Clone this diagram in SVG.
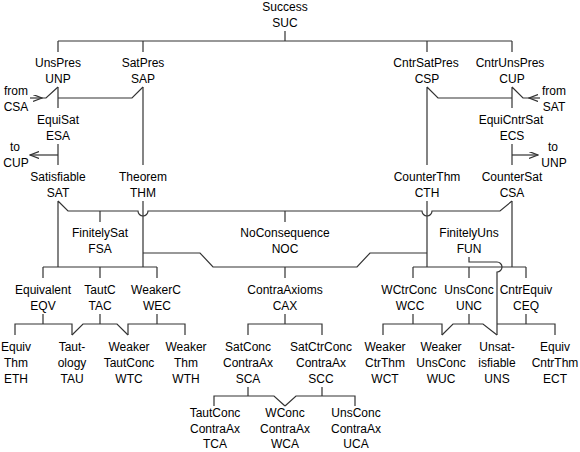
<svg xmlns="http://www.w3.org/2000/svg" width="580" height="452" viewBox="0 0 580 452">
<style>
text{font-family:"Liberation Sans",Arial,sans-serif;font-size:12px;text-anchor:middle;fill:#000}
.c path{fill:none;stroke:#333;stroke-width:1.2}
</style>
<defs>
<marker id="ah" markerUnits="userSpaceOnUse" markerWidth="10" markerHeight="8" refX="9" refY="3.5" orient="auto">
<path d="M0,0 L9,3.5 L0,7" fill="none" stroke="#333" stroke-width="1.2"/>
</marker>
</defs>
<rect width="580" height="452" fill="#fff"/>
<g id="connectors" class="c">
<path d="M285,31 V41 M58,41 H512 M58,41 V52 M143,41 V52 M427,41 V52 M512,41 V52"/>
<path d="M58,87 V108 M58,144 V165"/>
<path d="M143,87 V165"/>
<path d="M58,98 H132 L143,87"/>
<path d="M30,98 H42" marker-end="url(#ah)"/>
<path d="M42,98 H46 L58,87"/>
<path d="M58,155 H30" marker-end="url(#ah)"/>
<path d="M427,87 V165 M427,87 L438,98 H512"/>
<path d="M512,87 V108 M512,87 L523,98 H529"/>
<path d="M540,98 H529" marker-end="url(#ah)"/>
<path d="M512,144 V165"/>
<path d="M512,155 H538" marker-end="url(#ah)"/>
<path d="M58,201 V267 M58,201 L68,211 H138 A5,5 0 0 0 148,211 H422 A5,5 0 0 0 432,211 H500 L512,201"/>
<path d="M100,211 V222 M285,211 V222"/>
<path d="M143,201 V267 M427,201 V267 M512,201 V267"/>
<path d="M143,253 H200 L213,267 H357 L370,253 H427 M285,267 V278"/>
<path d="M43,267 H157 M43,267 V278 M100,267 V278 M157,267 V278"/>
<path d="M413,267 H526 M413,267 V278 M469,267 V278 M526,267 V278"/>
<path d="M469,257 V262 H497 A5,5 0 0 1 497,272 V335"/>
<path d="M43,314 V324 M15,335 V324 H72 V335"/>
<path d="M100,314 V324 M72,335 L83,324 H117 L128,335"/>
<path d="M157,314 V324 M128,335 V324 H185 V335"/>
<path d="M285,314 V324 M248,335 V324 H322 V335"/>
<path d="M413,314 V324 M383,335 V324 H442 V335"/>
<path d="M469,314 V324 M442,335 L453,324 H483 L497,335"/>
<path d="M526,314 V324 M497,324 H555 V335"/>
<path d="M248,387 V396 M214,406 V396 H274 L285,406"/>
<path d="M322,387 V396 M285,406 L296,396 H355 V406"/>
</g>
<g id="ext-labels">
<text x="16" y="95">from</text><text x="16" y="111">CSA</text>
<text x="15" y="151">to</text><text x="16" y="167">CUP</text>
<text x="554" y="95">from</text><text x="554" y="111">SAT</text>
<text x="553" y="151">to</text><text x="554" y="167">UNP</text>
</g>
<g id="SUC"><text x="285" y="11">Success</text><text x="285" y="27">SUC</text></g>
<g id="UNP"><text x="58" y="67">UnsPres</text><text x="58" y="83">UNP</text></g>
<g id="SAP"><text x="143" y="67">SatPres</text><text x="143" y="83">SAP</text></g>
<g id="CSP"><text x="426" y="67">CntrSatPres</text><text x="427" y="83">CSP</text></g>
<g id="CUP"><text x="510" y="67">CntrUnsPres</text><text x="512" y="83">CUP</text></g>
<g id="ESA"><text x="58" y="124">EquiSat</text><text x="58" y="140">ESA</text></g>
<g id="ECS"><text x="511" y="124">EquiCntrSat</text><text x="512" y="140">ECS</text></g>
<g id="SAT"><text x="58" y="181">Satisfiable</text><text x="58" y="197">SAT</text></g>
<g id="THM"><text x="143" y="181">Theorem</text><text x="143" y="197">THM</text></g>
<g id="CTH"><text x="427" y="181">CounterThm</text><text x="427" y="197">CTH</text></g>
<g id="CSA"><text x="512" y="181">CounterSat</text><text x="512" y="197">CSA</text></g>
<g id="FSA"><text x="100" y="237">FinitelySat</text><text x="100" y="253">FSA</text></g>
<g id="NOC"><text x="285" y="237">NoConsequence</text><text x="285" y="253">NOC</text></g>
<g id="FUN"><text x="469" y="237">FinitelyUns</text><text x="469" y="253">FUN</text></g>
<g id="EQV"><text x="43" y="294">Equivalent</text><text x="43" y="310">EQV</text></g>
<g id="TAC"><text x="100" y="294">TautC</text><text x="100" y="310">TAC</text></g>
<g id="WEC"><text x="156" y="294">WeakerC</text><text x="157" y="310">WEC</text></g>
<g id="CAX"><text x="285" y="294">ContraAxioms</text><text x="285" y="310">CAX</text></g>
<g id="WCC"><text x="409" y="294">WCtrConc</text><text x="410" y="310">WCC</text></g>
<g id="UNC"><text x="469" y="294">UnsConc</text><text x="469" y="310">UNC</text></g>
<g id="CEQ"><text x="526" y="294">CntrEquiv</text><text x="526" y="310">CEQ</text></g>
<g id="ETH"><text x="16" y="351">Equiv</text><text x="16" y="367">Thm</text><text x="16" y="383">ETH</text></g>
<g id="TAU"><text x="72" y="351">Taut-</text><text x="72" y="367">ology</text><text x="72" y="383">TAU</text></g>
<g id="WTC"><text x="129" y="351">Weaker</text><text x="129" y="367">TautConc</text><text x="129" y="383">WTC</text></g>
<g id="WTH"><text x="186" y="351">Weaker</text><text x="186" y="367">Thm</text><text x="186" y="383">WTH</text></g>
<g id="SCA"><text x="248" y="351">SatConc</text><text x="248" y="367">ContraAx</text><text x="248" y="383">SCA</text></g>
<g id="SCC"><text x="321" y="351">SatCtrConc</text><text x="321" y="367">ContraAx</text><text x="321" y="383">SCC</text></g>
<g id="WCT"><text x="385" y="351">Weaker</text><text x="385" y="367">CtrThm</text><text x="385" y="383">WCT</text></g>
<g id="WUC"><text x="441" y="351">Weaker</text><text x="441" y="367">UnsConc</text><text x="441" y="383">WUC</text></g>
<g id="UNS"><text x="497" y="351">Unsat-</text><text x="497" y="367">isfiable</text><text x="497" y="383">UNS</text></g>
<g id="ECT"><text x="555" y="351">Equiv</text><text x="555" y="367">CntrThm</text><text x="555" y="383">ECT</text></g>
<g id="TCA"><text x="215" y="417">TautConc</text><text x="215" y="433">ContraAx</text><text x="215" y="448">TCA</text></g>
<g id="WCA"><text x="285" y="417">WConc</text><text x="285" y="433">ContraAx</text><text x="285" y="448">WCA</text></g>
<g id="UCA"><text x="356" y="417">UnsConc</text><text x="356" y="433">ContraAx</text><text x="356" y="448">UCA</text></g>
</svg>
